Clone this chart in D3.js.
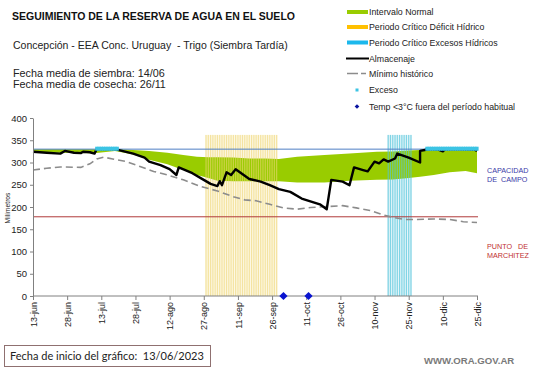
<!DOCTYPE html>
<html><head><meta charset="utf-8">
<script src="https://cdn.jsdelivr.net/npm/d3@7"></script>
<style>body{margin:0;background:#fff}svg{font-family:"Liberation Sans",Arial,sans-serif}</style>
</head><body><svg id="c" width="541" height="368"></svg>
<script>
// ---------- DATA ----------
const startDate = new Date(2023, 5, 13);
const totalDays = 195;
const xTickLabels = ["13-jun","28-jun","13-jul","28-jul","12-ago","27-ago","11-sep","26-sep","11-oct","26-oct","10-nov","25-nov","10-dic","25-dic"];
const xTickDays = [0,15,30,45,60,75,90,105,120,135,150,165,180,195];
const yTicks = [0,50,100,150,200,250,300,350,400];

const capacidadCampo = 330;
const puntoMarchitez = 178;

// Almacenaje [day, mm]
const almacenaje = [[0,324],[6,322],[12,320],[14,326],[18,322],[21,321],[22,324],[25,323],[27,320],[28,330],[36,330],
  [44,320],[49,311],[51,302],[56,294],[60,285],[63,272],[64.6,289],[70,276],[75,261],[78,252],[81,247],[82,258],[83.4,249],
  [85.6,278],[87.4,272],[89.6,285],[95,263],[100,257],[104,249],[108.5,240],[113,234],[118.6,219],[126,206],[129.6,195],
  [131.3,261],[136,257],[139.2,249],[141.4,289],[145,283],[147.5,280],[150,302],[152,298],[154.6,307],[156.8,302],[159,309],
  [160.3,320],[165.6,311],[170,300],[170.8,326],[172.2,328],[173.5,330],[178.7,329],[180,325],[181.4,330],[194.6,329],[195,326]];

// Intervalo normal
const normalDays  = [0,12,27,36,40,44,51,59,66,72,77,81,88,95,102,108,116,128,139,151,158,165,170,176,183,190,195];
const normalUpper = [330,330,330,330,329,328,326,322,317,313,312,312,311,309,309,308,313,317,320,324,325,327,328,330,330,330,330];
const normalLower = [323,322,321,326,322,318,306,296,283,272,265,259,258,258,258,258,255,255,259,261,262,265,268,272,278,281,276];

// Mínimo histórico [day, mm]
const minimo = [[0,283],[6,287],[12,290],[21,289],[25,297],[28,308],[31,312],[35,308],[41,302],[47,291],[53,280],[59,272],
  [66,261],[73,247],[81,236],[88,223],[93,216],[98,214],[104,206],[110,198],[116,195],[122,199],[129,201],[136,203],[142,198],
  [148,192],[154,182],[158,177],[163,172],[168,172],[176,173],[183,172],[189,167],[195,165]];

// Periodos críticos (días) y altura de barra
const deficitDays = [76,77,78,79,80,81,82,83,84,85,86,87,88,89,90,91,92,93,94,95,96,97,98,99,100,101,102,103,104,105,106,107];
const excesosDays = [156,157,158,159,160,161,162,163,164,165,166];
const periodoValue = 362;

// Exceso (días) y valor
const excesoDays = [28,29,30,31,32,33,34,35,36,37,173,174,175,176,177,178,179,180,181,182,183,184,185,186,187,188,189,190,191,192,193,194,195];
const excesoValue = 331;

// Temp < 3°C fuera del período habitual
const heladaDays = [110,121];

// ---------- CHART ----------
const svg = d3.select("#c");
const x = d3.scaleTime().domain([startDate, d3.timeDay.offset(startDate, totalDays)]).range([33, 477]);
const y = d3.scaleLinear().domain([0, 400]).range([296, 118]);
const X = d => x(d3.timeDay.offset(startDate, d));

// pale backgrounds of critical periods
function periodBg(days, color) {
  svg.append("rect").attr("x", X(days[0]) - 1).attr("y", y(periodoValue))
    .attr("width", X(days[days.length-1]) - X(days[0]) + 2).attr("height", y(0) - y(periodoValue))
    .attr("fill", color);
}
periodBg(deficitDays, "#fdf8e4");
periodBg(excesosDays, "#e6f6fa");

// green band
const band = normalDays.map((d,i) => ({d, u: normalUpper[i], l: normalLower[i]}));
svg.append("path").datum(band)
  .attr("d", d3.area().x(p => X(p.d)).y0(p => y(p.l)).y1(p => y(p.u)))
  .attr("fill", "#99cc00");

// period bars
function bars(days, color, op) {
  svg.append("g").selectAll("rect").data(days).join("rect")
    .attr("x", d => X(d) - 0.6).attr("width", 1.2)
    .attr("y", y(periodoValue)).attr("height", y(0) - y(periodoValue))
    .attr("fill", color).attr("opacity", op);
}
bars(deficitDays, "#efd675", 0.6);
bars(excesosDays, "#56c6dc", 0.7);

// reference lines
svg.append("line").attr("x1", 33).attr("x2", 478).attr("y1", y(capacidadCampo)).attr("y2", y(capacidadCampo))
  .attr("stroke", "#4f7fc4").attr("stroke-width", 1);
svg.append("line").attr("x1", 33).attr("x2", 478).attr("y1", y(puntoMarchitez)).attr("y2", y(puntoMarchitez))
  .attr("stroke", "#b03a3a").attr("stroke-width", 1);

// mínimo histórico
svg.append("path").datum(minimo)
  .attr("d", d3.line().x(p => X(p[0])).y(p => y(p[1])))
  .attr("fill", "none").attr("stroke", "#8c8c8c").attr("stroke-width", 1.6).attr("stroke-dasharray", "7,4");

// almacenaje
svg.append("path").datum(almacenaje)
  .attr("d", d3.line().x(p => X(p[0])).y(p => y(p[1])))
  .attr("fill", "none").attr("stroke", "#000").attr("stroke-width", 2.4).attr("stroke-linejoin", "round");

// exceso markers
svg.append("g").selectAll("rect").data(excesoDays).join("rect")
  .attr("x", d => X(d) - 1.6).attr("width", 3.2)
  .attr("y", y(excesoValue) - 2).attr("height", 4)
  .attr("fill", "#3cc4e4");

// axes
const yAxis = svg.append("g").attr("transform", "translate(33,0)")
  .call(d3.axisLeft(y).tickValues(yTicks).tickSize(3).tickSizeOuter(0).tickPadding(3));
yAxis.selectAll("text").style("font-size", "9.5px").attr("fill", "#222");
yAxis.selectAll("line,path").attr("stroke", "#808080");

const xAxis = svg.append("g").attr("transform", "translate(0,296)")
  .call(d3.axisBottom(x).tickValues(xTickDays.map(d => d3.timeDay.offset(startDate, d)))
    .tickSize(4).tickSizeOuter(0).tickFormat((d,i) => xTickLabels[i]));
xAxis.select(".domain").attr("d", "M33,0H478");
xAxis.selectAll("line,path").attr("stroke", "#808080");
xAxis.selectAll("text").style("font-size", "9px").attr("fill", "#222")
  .attr("y", 0).attr("x", -6).attr("dy", "0.35em")
  .attr("transform", "rotate(-90)").style("text-anchor", "end");

// helada diamonds
svg.append("g").selectAll("path").data(heladaDays).join("path")
  .attr("d", d3.symbol(d3.symbolSquare, 34))
  .attr("transform", d => `translate(${X(d)},${y(0)}) rotate(45)`)
  .attr("fill", "#0a14d0");

// y label
svg.append("text").attr("transform", "translate(10,208) rotate(-90)")
  .attr("text-anchor", "middle").style("font-size", "6.7px").attr("fill", "#222").text("Milímetros");

// titles
svg.append("text").attr("x", 12).attr("y", 20).style("font-size", "10.5px").style("font-weight", "bold")
  .attr("fill", "#111").text("SEGUIMIENTO DE LA RESERVA DE AGUA EN EL SUELO");
svg.append("text").attr("x", 13).attr("y", 49).style("font-size", "10.5px").attr("fill", "#222")
  .attr("xml:space", "preserve").style("white-space", "pre").text("Concepción - EEA Conc. Uruguay  - Trigo (Siembra Tardía)");
svg.append("text").attr("x", 13).attr("y", 77).style("font-size", "10.8px").attr("fill", "#222").text("Fecha media de siembra: 14/06");
svg.append("text").attr("x", 13).attr("y", 88).style("font-size", "10.8px").attr("fill", "#222").text("Fecha media de cosecha: 26/11");

// legend
const lg = svg.append("g").style("font-size", "8.8px").attr("fill", "#222");
const lx = 347, tx = 369;
lg.append("rect").attr("x", lx).attr("y", 10).attr("width", 21).attr("height", 4).attr("fill", "#99cc00");
lg.append("text").attr("x", tx).attr("y", 15).text("Intervalo Normal");
lg.append("rect").attr("x", lx).attr("y", 25).attr("width", 21).attr("height", 4).attr("fill", "#ffc000");
lg.append("text").attr("x", tx).attr("y", 30).text("Periodo Crítico Déficit Hídrico");
lg.append("rect").attr("x", lx).attr("y", 40.5).attr("width", 21).attr("height", 4).attr("fill", "#1cb8ec");
lg.append("text").attr("x", tx).attr("y", 46).text("Periodo Crítico Excesos Hídricos");
lg.append("line").attr("x1", lx - 1).attr("x2", 369).attr("y1", 58.5).attr("y2", 58.5).attr("stroke", "#000").attr("stroke-width", 2);
lg.append("text").attr("x", tx).attr("y", 62).text("Almacenaje");
lg.append("line").attr("x1", lx).attr("x2", 366).attr("y1", 73.5).attr("y2", 73.5).attr("stroke", "#8c8c8c").attr("stroke-width", 1.5).attr("stroke-dasharray", "11,3");
lg.append("text").attr("x", tx).attr("y", 77).text("Mínimo histórico");
lg.append("rect").attr("x", 355.5).attr("y", 88.5).attr("width", 3).attr("height", 3).attr("fill", "#3cc4e4");
lg.append("text").attr("x", tx).attr("y", 93).text("Exceso");
lg.append("path").attr("d", d3.symbol(d3.symbolSquare, 11)).attr("transform", "translate(357,106.5) rotate(45)").attr("fill", "#0a14a0");
lg.append("text").attr("x", tx).attr("y", 109.5).text("Temp <3°C fuera del período habitual");

// right side labels
const rl = svg.append("g").style("font-size", "7.2px");
rl.append("text").attr("x", 487).attr("y", 173).attr("fill", "#3a3aa8").text("CAPACIDAD");
rl.append("text").attr("x", 487).attr("y", 182).attr("fill", "#3a3aa8").attr("xml:space","preserve").style("white-space","pre").text("DE  CAMPO");
rl.append("text").attr("x", 487).attr("y", 249).attr("fill", "#c03030").attr("xml:space","preserve").style("white-space","pre").text("PUNTO   DE");
rl.append("text").attr("x", 487).attr("y", 258).attr("fill", "#c03030").text("MARCHITEZ");

// bottom box
svg.append("rect").attr("x", 4.5).attr("y", 345.5).attr("width", 206).attr("height", 21)
  .attr("fill", "#fff").attr("stroke", "#8f7070").attr("stroke-width", 1);
svg.append("text").attr("x", 10).attr("y", 360).style("font-family", "Lato, 'Open Sans', sans-serif").style("font-size", "11px")
  .attr("fill", "#222").attr("xml:space","preserve").style("white-space","pre").text("Fecha de inicio del gráfico:  13/06/2023");
svg.append("text").attr("x", 424).attr("y", 364).style("font-size", "9.6px").style("font-weight", "bold")
  .attr("fill", "#7a7a7a").text("WWW.ORA.GOV.AR");
</script></body></html>
